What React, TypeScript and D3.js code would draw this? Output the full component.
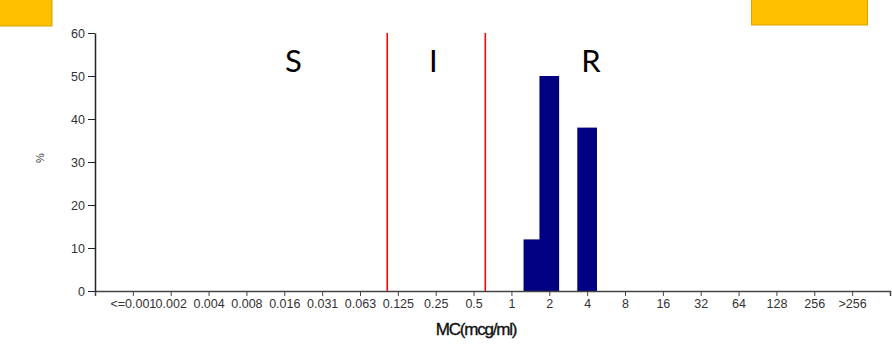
import React, { useEffect, useRef } from "react";
import * as d3 from "d3";

const categories = ["<=0.001", "0.002", "0.004", "0.008", "0.016", "0.031", "0.063", "0.125", "0.25", "0.5", "1", "2", "4", "8", "16", "32", "64", "128", "256", ">256"];
// bars: position (category index, fractional allowed) and percent
const barPositions = [10.58, 11, 12];
const barValues = [12, 50, 38];
const yTicks = [0, 10, 20, 30, 40, 50, 60];
const breakpoints = [6.72, 9.31];
const zoneLabels = ["S", "I", "R"];
const zonePositions = [4.24, 7.94, 12.1];

const W = 892, H = 354;
const M = { left: 95, right: 2, top: 33, bottom: 63 };

export default function App() {
  const ref = useRef<SVGSVGElement | null>(null);
  useEffect(() => {
    const svg = d3.select(ref.current);
    svg.selectAll("*").remove();
    const x0 = M.left, x1 = 890;
    const y0 = 291, y1 = M.top;
    const xPoint = d3.scalePoint<string>().domain(categories).range([x0, x1]).padding(1);
    const step = xPoint.step();
    const xIdx = d3.scaleLinear().domain([0, 1]).range([x0 + step, x0 + 2 * step]);
    const y = d3.scaleLinear().domain([0, 60]).range([y0, y1]);

    // yellow boxes
    svg.append("rect").attr("x", -1).attr("y", -1).attr("width", 53).attr("height", 27)
      .attr("fill", "#FFC000").attr("stroke", "#D9A300").attr("stroke-width", 1);
    svg.append("rect").attr("x", 751.5).attr("y", -1).attr("width", 116).attr("height", 26)
      .attr("fill", "#FFC000").attr("stroke", "#D9A300").attr("stroke-width", 1);

    // bars
    const bw = step * 0.52;
    const data = barPositions.map((p, i) => ({ p, v: barValues[i] }));
    svg.append("g").selectAll("rect").data(data).join("rect")
      .attr("x", d => xIdx(d.p) - bw / 2)
      .attr("y", d => y(d.v))
      .attr("width", bw)
      .attr("height", d => y(0) - y(d.v))
      .attr("fill", "#000080");

    // breakpoints
    svg.append("g").selectAll("line").data(breakpoints).join("line")
      .attr("x1", d => xIdx(d)).attr("x2", d => xIdx(d))
      .attr("y1", y(60)).attr("y2", y(0))
      .attr("stroke", "#ff0000").attr("stroke-width", 1.6);

    // zone labels
    svg.append("g").selectAll("text").data(zoneLabels).join("text")
      .attr("x", (d, i) => xIdx(zonePositions[i]))
      .attr("y", 72)
      .attr("text-anchor", "middle")
      .attr("font-family", "Lato, 'Open Sans', sans-serif")
      .attr("font-size", 31)
      .attr("fill", "#000")
      .text(d => d);

    // x axis
    const gx = svg.append("g").attr("transform", `translate(0,${y0})`)
      .call(d3.axisBottom(xPoint).tickSize(5).tickSizeOuter(5).tickPadding(3));
    gx.select(".domain").attr("stroke", "#444").attr("stroke-width", 1.5);
    gx.selectAll(".tick line").attr("stroke", "#444");
    gx.selectAll(".tick text").attr("fill", "#333").attr("font-size", 12.5)
      .attr("font-family", "'Liberation Sans', Arial, sans-serif");

    // y axis
    const gy = svg.append("g").attr("transform", `translate(${x0},0)`)
      .call(d3.axisLeft(y).tickValues(yTicks).tickSize(7).tickSizeOuter(0).tickPadding(3));
    gy.select(".domain").attr("stroke", "#222").attr("stroke-width", 1.5);
    gy.selectAll(".tick line").attr("stroke", "#222");
    gy.selectAll(".tick text").attr("fill", "#333").attr("font-size", 12.5)
      .attr("font-family", "'Liberation Sans', Arial, sans-serif");

    // axis titles
    svg.append("text").attr("x", 476).attr("y", 335)
      .attr("text-anchor", "middle")
      .attr("font-family", "'Liberation Sans', Arial, sans-serif")
      .attr("font-size", 17).attr("letter-spacing", -1.2)
      .attr("fill", "#111").attr("stroke", "#111").attr("stroke-width", 0.35)
      .text("MC(mcg/ml)");
    svg.append("text")
      .attr("transform", "translate(44,158) rotate(-90)")
      .attr("text-anchor", "middle")
      .attr("font-family", "'Liberation Sans', Arial, sans-serif")
      .attr("font-size", 11)
      .attr("fill", "#333")
      .text("%");
  }, []);
  return (
    <svg ref={ref} width={W} height={H}
      style={{ position: "absolute", left: 0, top: 0, background: "#fff" }} />
  );
}
